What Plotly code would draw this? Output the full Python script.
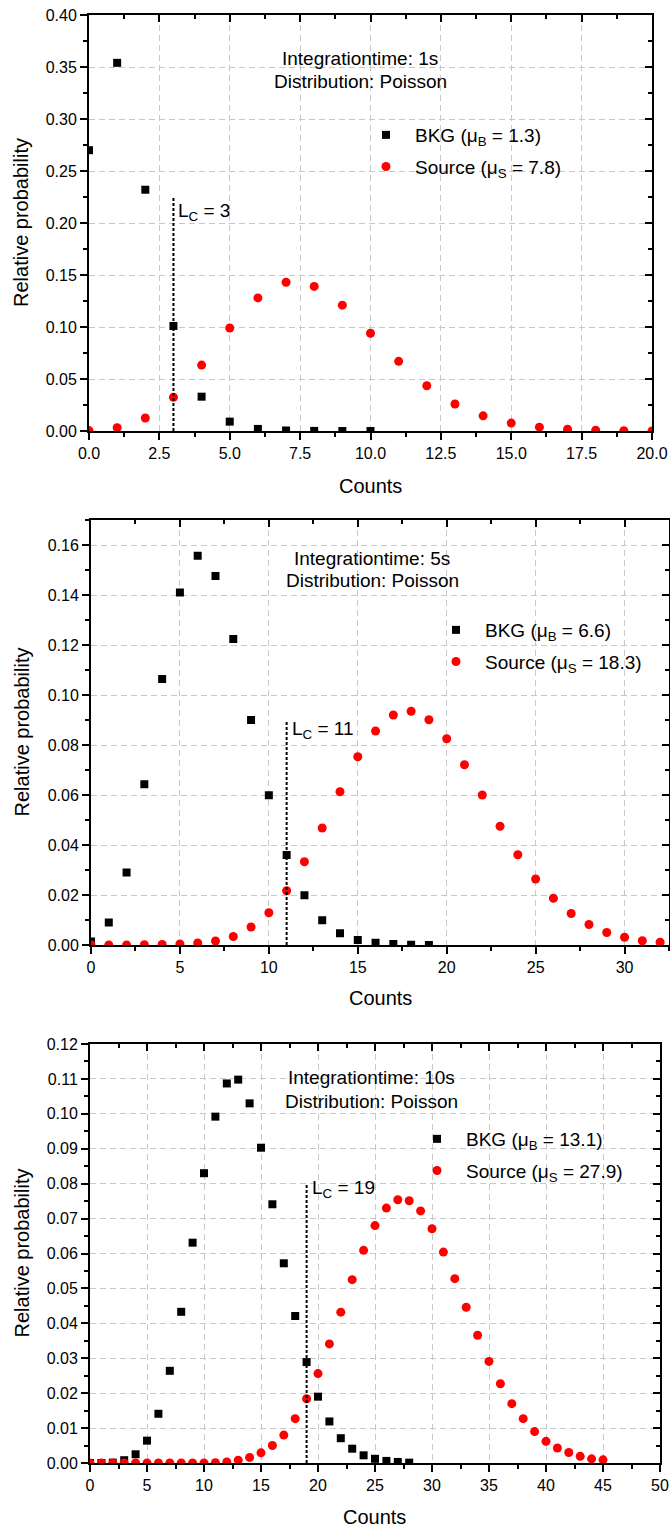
import plotly.graph_objects as go

W, H = 670, 1528
FONT = "Liberation Sans, Arial, sans-serif"

# ---------------- data ----------------
# Panel 1 (integration time 1 s)
x1_bkg = [0, 1, 2, 3, 4, 5, 6, 7, 8, 9, 10]
y1_bkg = [0.270, 0.354, 0.232, 0.101, 0.033, 0.009, 0.002, 0.0005, 0.0001, 0.0, 0.0]
x1_src = [0, 1, 2, 3, 4, 5, 6, 7, 8, 9, 10, 11, 12, 13, 14, 15, 16, 17, 18, 19, 20]
y1_src = [0.0004, 0.0032, 0.0125, 0.0325, 0.0634, 0.099, 0.128, 0.143, 0.139, 0.121,
          0.094, 0.067, 0.0435, 0.026, 0.0146, 0.0076, 0.0037, 0.0017, 0.0007, 0.0003, 0.0001]
lc1 = 3
lc1_top = 0.225
mu_b1, mu_s1 = "1.3", "7.8"
time1 = "1s"

# Panel 2 (integration time 5 s)
x2_bkg = [0, 1, 2, 3, 4, 5, 6, 7, 8, 9, 10, 11, 12, 13, 14, 15, 16, 17, 18, 19]
y2_bkg = [0.0014, 0.0090, 0.0290, 0.0643, 0.1064, 0.1410, 0.1557, 0.1476, 0.1224, 0.0900,
          0.0599, 0.0360, 0.0199, 0.0099, 0.0047, 0.0020, 0.0009, 0.0004, 0.0001, 0.0000]
x2_src = [0, 1, 2, 3, 4, 5, 6, 7, 8, 9, 10, 11, 12, 13, 14, 15, 16, 17, 18, 19, 20, 21, 22,
          23, 24, 25, 26, 27, 28, 29, 30, 31, 32]
y2_src = [0.0000, 0.0000, 0.0000, 0.0001, 0.0002, 0.0004, 0.0008, 0.0016, 0.0034, 0.0072,
          0.0129, 0.0217, 0.0333, 0.0468, 0.0613, 0.0753, 0.0856, 0.0920, 0.0935, 0.0901,
          0.0825, 0.0721, 0.0600, 0.0475, 0.0361, 0.0264, 0.0187, 0.0126, 0.0082, 0.0050,
          0.0031, 0.0017, 0.0011]
lc2 = 11
lc2_top = 0.090
mu_b2, mu_s2 = "6.6", "18.3"
time2 = "5s"

# Panel 3 (integration time 10 s)
x3_bkg = [0, 1, 2, 3, 4, 5, 6, 7, 8, 9, 10, 11, 12, 13, 14, 15, 16, 17, 18, 19, 20, 21, 22,
          23, 24, 25, 26, 27, 28]
y3_bkg = [0.0000, 0.0000, 0.0001, 0.0008, 0.0025, 0.0064, 0.0141, 0.0264, 0.0433, 0.0631,
          0.0830, 0.0992, 0.1087, 0.1098, 0.1030, 0.0903, 0.0741, 0.0572, 0.0421, 0.0289,
          0.0190, 0.0119, 0.0071, 0.0041, 0.0022, 0.0012, 0.0006, 0.0003, 0.0001]
x3_src = [0, 1, 2, 3, 4, 5, 6, 7, 8, 9, 10, 11, 12, 13, 14, 15, 16, 17, 18, 19, 20, 21, 22,
          23, 24, 25, 26, 27, 28, 29, 30, 31, 32, 33, 34, 35, 36, 37, 38, 39, 40, 41, 42,
          43, 44, 45]
y3_src = [0.0000, 0.0000, 0.0000, 0.0000, 0.0000, 0.0000, 0.0000, 0.0000, 0.0000, 0.0000,
          0.0000, 0.0001, 0.0003, 0.0008, 0.0016, 0.0029, 0.0050, 0.0080, 0.0127, 0.0184,
          0.0256, 0.0341, 0.0432, 0.0525, 0.0609, 0.0680, 0.0730, 0.0754, 0.0751, 0.0722,
          0.0671, 0.0604, 0.0528, 0.0446, 0.0366, 0.0291, 0.0227, 0.0170, 0.0127, 0.0090,
          0.0062, 0.0043, 0.0030, 0.0019, 0.0012, 0.0009]
lc3 = 19
lc3_top = 0.080
mu_b3, mu_s3 = "13.1", "27.9"
time3 = "10s"

# ---------------- layout geometry (pixels) ----------------
panels = [
    dict(xb=x1_bkg, yb=y1_bkg, xs=x1_src, ys=y1_src, lc=lc1, lctop=lc1_top,
         mub=mu_b1, mus=mu_s1, t=time1,
         px=(89, 652), py=(15, 431), xr=[0, 20], yr=[0, 0.40],
         xd=2.5, xm=1.25, yd=0.05, ym=0.025, xf=".1f", yf=".2f",
         lcy=0.211, ann_x=360, ann_y=(58, 82), leg=(357, 116), cnt_y=486),
    dict(xb=x2_bkg, yb=y2_bkg, xs=x2_src, ys=y2_src, lc=lc2, lctop=lc2_top,
         mub=mu_b2, mus=mu_s2, t=time2,
         px=(91, 669), py=(520, 945), xr=[0, 32.5], yr=[0, 0.17],
         xd=5, xm=2.5, yd=0.02, ym=0.01, xf="d", yf=".2f",
         lcy=0.086, ann_x=372, ann_y=(559, 581), leg=(427, 611), cnt_y=998),
    dict(xb=x3_bkg, yb=y3_bkg, xs=x3_src, ys=y3_src, lc=lc3, lctop=lc3_top,
         mub=mu_b3, mus=mu_s3, t=time3,
         px=(90, 660), py=(1044, 1463), xr=[0, 50], yr=[0, 0.12],
         xd=5, xm=2.5, yd=0.01, ym=0.005, xf="d", yf=".2f",
         lcy=0.0785, ann_x=371, ann_y=(1077, 1101), leg=(408, 1120), cnt_y=1517),
]

TXT = 19      # annotation / legend text size
TICK = 16     # tick label size


def fx(p):
    return p / W


def fy(p):
    return 1 - p / H


fig = go.Figure()
layout = dict(
    template="none",
    width=W, height=H,
    margin=dict(l=0, r=0, t=0, b=0, autoexpand=False),
    paper_bgcolor="white", plot_bgcolor="white",
    font=dict(family=FONT, size=TICK, color="black"),
    annotations=[],
)

GRID = "#c8c8c8"

for i, p in enumerate(panels, start=1):
    xa = "x" if i == 1 else f"x{i}"
    ya = "y" if i == 1 else f"y{i}"
    xo, yo = f"x{i+3}", f"y{i+3}"
    leg = "legend" if i == 1 else f"legend{i}"

    fig.add_trace(go.Scatter(
        x=p["xb"], y=p["yb"], mode="markers", xaxis=xa, yaxis=ya,
        marker=dict(symbol="square", size=8, color="black"),
        name=f"BKG (μ<sub>B</sub> = {p['mub']})", legend=leg, legendgroup=f"b{i}"))
    fig.add_trace(go.Scatter(
        x=p["xs"], y=p["ys"], mode="markers", xaxis=xa, yaxis=ya,
        marker=dict(symbol="circle", size=9, color="red"),
        name=f"Source (μ<sub>S</sub> = {p['mus']})", legend=leg, legendgroup=f"s{i}"))
    fig.add_trace(go.Scatter(
        x=[p["lc"], p["lc"]], y=[0, p["lctop"]], mode="lines", xaxis=xa, yaxis=ya,
        line=dict(color="black", width=2, dash="3px,2px"), showlegend=False))

    xdom = [fx(p["px"][0]), fx(p["px"][1])]
    ydom = [fy(p["py"][1]), fy(p["py"][0])]

    common_x = dict(range=p["xr"], dtick=p["xd"], tick0=0, tickformat=p["xf"], automargin=False)
    common_y = dict(range=p["yr"], dtick=p["yd"], tick0=0, tickformat=p["yf"], automargin=False)

    layout["xaxis" if i == 1 else f"xaxis{i}"] = dict(
        domain=xdom, anchor=ya, **common_x,
        showline=True, linecolor="black", linewidth=2, mirror=True,
        ticks="outside", ticklen=7, tickwidth=1.5, tickcolor="black",
        minor=dict(ticks="outside", ticklen=4, tickwidth=1.5, tickcolor="black",
                   dtick=p["xm"], showgrid=False),
        showgrid=True, gridcolor=GRID, gridwidth=1, griddash="6px,4px",
        zeroline=False, tickfont=dict(size=TICK, family=FONT))
    layout["yaxis" if i == 1 else f"yaxis{i}"] = dict(
        domain=ydom, anchor=xa, **common_y,
        showline=True, linecolor="black", linewidth=2, mirror=True,
        ticks="outside", ticklen=7, tickwidth=1.5, tickcolor="black",
        minor=dict(ticks="outside", ticklen=4, tickwidth=1.5, tickcolor="black",
                   dtick=p["ym"], showgrid=False),
        showgrid=True, gridcolor=GRID, gridwidth=1, griddash="6px,4px",
        zeroline=False, tickfont=dict(size=TICK, family=FONT))
    # inward ticks on top / right
    layout[f"xaxis{i+3}"] = dict(
        overlaying=xa, anchor=ya, side="top", **common_x,
        showline=False, showgrid=False, zeroline=False, showticklabels=False,
        ticks="inside", ticklen=7, tickwidth=1.5, tickcolor="black",
        minor=dict(ticks="inside", ticklen=4, tickwidth=1.5, tickcolor="black",
                   dtick=p["xm"], showgrid=False))
    layout[f"yaxis{i+3}"] = dict(
        overlaying=ya, anchor=xa, side="right", **common_y,
        showline=False, showgrid=False, zeroline=False, showticklabels=False,
        ticks="inside", ticklen=7, tickwidth=1.5, tickcolor="black",
        minor=dict(ticks="inside", ticklen=4, tickwidth=1.5, tickcolor="black",
                   dtick=p["ym"], showgrid=False))
    fig.add_trace(go.Scatter(x=[], y=[], xaxis=xo, yaxis=yo, showlegend=False,
                             hoverinfo="skip"))

    layout[leg] = dict(
        x=fx(p["leg"][0]), y=fy(p["leg"][1]), xanchor="left", yanchor="top",
        bgcolor="rgba(0,0,0,0)", borderwidth=0,
        font=dict(size=TXT, family=FONT), tracegroupgap=4, itemwidth=48)

    anns = layout["annotations"]
    anns.append(dict(xref="paper", yref="paper", x=fx(p["ann_x"]), y=fy(p["ann_y"][0]),
                     text=f"Integrationtime: {p['t']}", showarrow=False,
                     xanchor="center", yanchor="middle", font=dict(size=TXT, family=FONT)))
    anns.append(dict(xref="paper", yref="paper", x=fx(p["ann_x"]), y=fy(p["ann_y"][1]),
                     text="Distribution: Poisson", showarrow=False,
                     xanchor="center", yanchor="middle", font=dict(size=TXT, family=FONT)))
    anns.append(dict(xref=xa, yref=ya, x=p["lc"], y=p["lcy"], xshift=3,
                     text=f"L<sub>C</sub> = {p['lc']}", showarrow=False,
                     xanchor="left", yanchor="middle", font=dict(size=TXT, family=FONT)))
    anns.append(dict(xref="paper", yref="paper", x=fx((p["px"][0] + p["px"][1]) / 2),
                     y=fy(p["cnt_y"]), text="Counts", showarrow=False,
                     xanchor="center", yanchor="middle", font=dict(size=20, family=FONT)))
    anns.append(dict(xref="paper", yref="paper", x=fx(21),
                     y=fy((p["py"][0] + p["py"][1]) / 2), text="Relative probability",
                     textangle=-90, showarrow=False,
                     xanchor="center", yanchor="middle", font=dict(size=20, family=FONT)))

fig.update_layout(**layout)
fig.write_html("out.html")
